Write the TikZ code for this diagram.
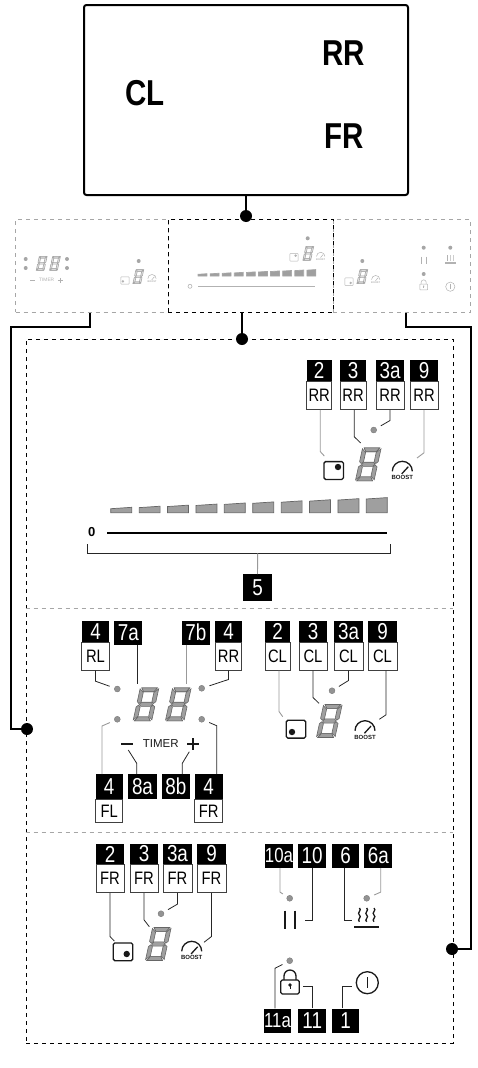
\documentclass[tikz,border=0pt]{standalone}
\usepackage{fontspec}
\usepackage{tikz}
\usetikzlibrary{positioning}
\setmainfont{Liberation Sans}
\newfontfamily\tagfont[FakeStretch=0.82]{Liberation Sans}
\colorlet{iconink}{black!90}
\colorlet{segfill}{gray!75}
\colorlet{segline}{black!60}
\colorlet{dotfill}{gray!85}
\tikzset{
  numbox/.style={fill=black, text=white, inner sep=0pt, anchor=north, minimum height=21pt, font=\tagfont\fontsize{23}{23}\selectfont},
  widenum/.style={font=\tagfont\fontsize{20.5}{20.5}\selectfont},
  zonebox/.style={draw=black!75, fill=white, line width=0.8pt, inner sep=0pt, minimum height=28pt, font=\tagfont\fontsize{18}{18}\selectfont},
  bigdot/.style={circle, fill=black, inner sep=0pt, minimum size=12pt},
  leddot/.style={circle, fill=dotfill, draw=black!55, line width=0.3pt, inner sep=0pt, minimum size=6pt},
  leader/.style={draw=black!85, line width=0.8pt},
  leaderpale/.style={draw=gray!80, line width=0.9pt},
  tolamp/.style={shorten >=5pt},
  link/.style={line width=2pt},
  zonepanel/.style={dashed, dash pattern=on 4pt off 4pt, line width=0.8pt, inner sep=0pt, anchor=center},
  iconline/.style={line width=1.3pt},
  iconround/.style={rounded corners=1.5pt},
  pics/digitpic/.style={code={
    \begin{scope}[xslant=0.22, draw=segline, fill=segfill, line width=0.6pt]
      \foreach \sx/\sy in {1/1, -1/1, 1/-1, -1/-1} {
        \filldraw[xscale=\sx, yscale=\sy] (-7.8,-16.5) -- (7.8,-16.5) -- (5.2,-12.6) -- (-5.2,-12.6) -- cycle;
        \filldraw[xscale=\sx, yscale=\sy] (-9.3,-15.5) -- (-5.3,-11.8) -- (-5.3,-2.6) -- (-7.3,-0.8) -- (-9.3,-2.6) -- cycle;
      }
      \filldraw (-6.7,0) -- (-4.7,-2.1) -- (4.7,-2.1) -- (6.7,0) -- (4.7,2.1) -- (-4.7,2.1) -- cycle;
    \end{scope}
  }},
  pics/squarepic/.style 2 args={code={
    \draw[iconink, iconline, iconround] (-9.7,-8.9) rectangle (9.7,8.9);
    \fill[iconink] (#1,#2) circle (3.2pt);
  }},
  pics/boostpic/.style={code={
    \draw[iconink, iconline] (-10,-2) arc (180:360:10);
    \draw[iconink, iconline] (-0.6,0.6) -- (6,-6.6);
    \node[iconink, transform shape, inner sep=0pt, font=\bfseries\fontsize{6}{6}\selectfont] at (0,4.6) {BOOST};
  }},
  pics/slidepic/.style={code={
    \foreach \i in {0,...,9} {
      \pgfmathsetmacro{\barx}{\i*28.4}
      \pgfmathsetmacro{\barl}{4+\i*1.08}
      \filldraw[fill=segfill, draw=segline, line width=0.7pt] (\barx,0) -- ++(21,0) -- ++(0,-\barl-1.4) -- ++(-21,1.4) -- cycle;
    }
  }},
  pics/pausepic/.style={code={
    \draw[iconink, iconline] (-5,-9) -- (-5,9) (5,-9) -- (5,9);
  }},
  pics/heatpic/.style={code={
    \foreach \x in {-7.3,0,7.3} {
      \draw[iconink, iconline] (\x,-7) .. controls +(3,2) and +(-3,-2) .. (\x,0) .. controls +(3,2) and +(-3,-2) .. (\x,6.7);
    }
    \draw[iconink, line width=1.8pt] (-12.4,11.7) -- (12.4,11.7);
  }},
  pics/lockpic/.style={code={
    \draw[iconink, iconline, iconround] (-9.3,0) rectangle (9.3,14);
    \draw[iconink, iconline] (-6,0) -- (-6,-4) arc (180:360:6) -- (6,0);
    \fill[iconink] (0,5) circle (1.8pt);
    \draw[iconink, line width=1pt] (0,5) -- (0,9);
  }},
  pics/powerpic/.style={code={
    \draw[iconink, iconline] (0,0) circle (11);
    \draw[iconink, iconline] (0,-5.5) -- (0,5.5);
  }},
  pics/timerpic/.style={code={
    \node[iconink, transform shape, inner sep=0pt, font=\fontsize{11.5}{11.5}\selectfont] at (0,0) {TIMER};
    \draw[iconink, line width=1.5pt] (-39.5,0) -- (-27.5,0);
    \draw[iconink, line width=1.5pt] (26.5,0) -- (38.5,0) (32.5,-6) -- (32.5,6);
  }},
}
% top black box with zone label below it
\newcommand{\zonerow}[4]{
  \foreach \nam/\xx/\wid/\num in {#4} {
    \node[numbox, minimum width=\wid] (#1\nam) at (\xx,#3) {\num};
    \node[zonebox, minimum width=\wid, below=-0.4pt of #1\nam] (#1\nam z) {#2};
  }
}
\begin{document}
\begin{tikzpicture}[x=1pt, y=-1pt]
  \useasboundingbox (0,0) rectangle (477,1068);

  % hob
  \node[draw, line width=2pt, rounded corners=2.5pt, minimum width=324pt, minimum height=190pt, inner sep=0pt] (hob) at (246,100) {};
  \node[font=\tagfont\bfseries\fontsize{36}{36}\selectfont, inner sep=0pt] (rrtxt) at (344,53) {RR};
  \node[font=\tagfont\bfseries\fontsize{36}{36}\selectfont, inner sep=0pt] (cltxt) at (145,93) {CL};
  \node[font=\tagfont\bfseries\fontsize{36}{36}\selectfont, inner sep=0pt] (frtxt) at (344,136) {FR};

  % small panels
  \node[zonepanel, draw=gray!70, minimum width=152.6pt, minimum height=93pt] (leftzone) at (92,265.8) {};
  \node[zonepanel, draw=gray!70, minimum width=137.4pt, minimum height=93pt] (rightzone) at (402,265.8) {};
  \node[zonepanel, draw=black, minimum width=165pt, minimum height=93pt] (midzone) at (250.8,265.8) {};
  \node[bigdot] (topdot) at (246,216) {};
  \draw[link] (hob.south) -- (topdot);

  \begin{scope}[iconline/.style={line width=0.5pt}, iconround/.style={rounded corners=0.5pt}]
    \colorlet{iconink}{gray!60}
    \colorlet{segfill}{gray!20}
    \colorlet{segline}{gray!70}
    \colorlet{dotfill}{gray!70}
    \foreach \nam/\xx/\yy in {a/25.7/259, b/25.7/268, c/67/259, d/67/268, e/138.7/261, f/307.7/238.3, g/362.3/261, h/423.7/247.7, i/450.3/247.7, j/423.7/274} {
      \node[leddot, draw=none, minimum size=4pt] (mini\nam) at (\xx,\yy) {};
    }
    \pic[scale=0.42] at (41.7,263.3) {digitpic};
    \pic[scale=0.42] at (55,263.3) {digitpic};
    \pic[scale=0.42] at (46.7,280.3) {timerpic};
    \pic[scale=0.42] at (138.3,276.7) {digitpic};
    \pic[scale=0.42] at (125,280.5) {squarepic={-5}{2}};
    \pic[scale=0.42] at (152,279.5) {boostpic};
    \pic[scale=0.42] at (308.3,253.3) {digitpic};
    \pic[scale=0.42] at (294,257.3) {squarepic={4}{-4}};
    \pic[scale=0.42] at (320.7,257.3) {boostpic};
    \pic[scale=0.42] at (362.3,276.7) {digitpic};
    \pic[scale=0.42] at (349,281.7) {squarepic={4}{3}};
    \pic[scale=0.42] at (375.7,280.5) {boostpic};
    \colorlet{segfill}{gray!75}
    \pic[scale=0.426] at (198,276) {slidepic};
    \draw[iconink, line width=0.6pt] (198,286.3) -- (315.3,286.3);
    \draw[iconink, line width=0.6pt] (190,286.3) circle (2);
    \pic[scale=0.42] at (423.7,260.3) {pausepic};
    \pic[scale=0.42] at (450.3,258) {heatpic};
    \pic[scale=0.42] at (423.7,284) {lockpic};
    \pic[scale=0.42] at (450.3,286.7) {powerpic};
  \end{scope}

  % big frame
  \node[zonepanel, draw=black, minimum width=427pt, minimum height=704pt] (frame) at (239.5,691) {};
  \draw[zonepanel, draw=gray!70] (frame.west |- 0,608) -- (frame.east |- 0,608);
  \draw[zonepanel, draw=gray!70] (frame.west |- 0,832) -- (frame.east |- 0,832);
  \node[bigdot] (framedot) at (242,339) {};
  \node[bigdot] (leftdot) at (27,729) {};
  \node[bigdot] (rightdot) at (452,949) {};
  \draw[link] ([xshift=-8.8pt]midzone.south) -- (framedot);
  \draw[link] ([xshift=-2pt]leftzone.south) -- ++(0,14) -- ++(-79,0) |- (leftdot);
  \draw[link] ([xshift=4pt]rightzone.south) -- ++(0,14) -- ++(65,0) |- (rightdot);

  % RR zone
  \zonerow{rr}{RR}{360}{2/319.2/25/2, 3/353/26/3, a/390/28/3a, 9/424/28/9}
  \node[leddot] (rrled) at (373.7,430) {};
  \pic at (368.3,464.3) {digitpic};
  \pic at (333.7,470.5) {squarepic={4.3}{-3.5}};
  \pic at (402.3,473.3) {boostpic};
  \coordinate (rrend2) at (324.3,456);
  \coordinate (rrend3) at (360.7,443);
  \coordinate (rrend9) at (417,458);
  \draw[leaderpale] ([xshift=1pt]rr2z.south) -- ++(0,41.7) -- (rrend2);
  \draw[leader] ([xshift=1.3pt]rr3z.south) -- ++(0,27) -- (rrend3);
  \draw[leader, tolamp] (rraz.south) -- ++(0,10.7) -- (rrled);
  \draw[leaderpale] (rr9z.south) -- ++(0,43) -- (rrend9);

  % slider
  \pic at (110.7,512.7) {slidepic};
  \node[inner sep=0pt, font=\bfseries\fontsize{13}{13}\selectfont] (zerotxt) at (91.7,532.4) {0};
  \node[inner sep=0pt, minimum width=280.6pt, minimum height=2pt, fill=black] (slideline) at (247,533) {};
  \node[numbox, minimum width=28.4pt, minimum height=27pt] (fivetag) at (257.5,574) {5};
  \coordinate (brackl) at (87.3,544);
  \coordinate (brackr) at (390.3,544);
  \draw[leader, line width=1pt] (brackl) -- ++(0,9.3) -| (brackr);
  \coordinate (brackm) at (257.7,553.3);
  \draw[leaderpale] (brackm) -- (fivetag.north);

  % timer
  \zonerow{tt}{RL}{620.7}{r/95.5/27.6/4}
  \zonerow{tu}{RR}{620.7}{r/228.5/26.4/4}
  \node[numbox, minimum width=28pt, minimum height=23.6pt] (sevena) at (128.3,620.7) {7a};
  \node[numbox, minimum width=28.3pt, minimum height=23.6pt] (sevenb) at (195.8,620.7) {7b};
  \node[leddot] (ledrl) at (117.3,689) {};
  \node[leddot] (ledrr) at (201.7,688.3) {};
  \node[leddot] (ledfl) at (117.3,719.3) {};
  \node[leddot] (ledfr) at (201.7,719.3) {};
  \pic at (146,704.3) {digitpic};
  \pic at (178.3,704.3) {digitpic};
  \pic at (160.7,744) {timerpic};
  \node[numbox, minimum width=27pt, minimum height=25.3pt] (flnum) at (109.2,774) {4};
  \node[zonebox, minimum width=27pt, minimum height=23pt, below=-0.4pt of flnum] (flzone) {FL};
  \node[numbox, minimum width=28pt, minimum height=25.3pt] (frnum) at (208.7,774) {4};
  \node[zonebox, minimum width=28pt, minimum height=23pt, below=-0.4pt of frnum] (frzone) {FR};
  \node[numbox, minimum width=28.4pt, minimum height=24.3pt] (eighta) at (142.5,774) {8a};
  \node[numbox, minimum width=28.3pt, minimum height=24.3pt] (eightb) at (175.8,774) {8b};
  \coordinate (tend8a) at (128.3,750);
  \coordinate (tend8b) at (189.3,751.7);
  \draw[leader, tolamp] (ttrz.south) -- ++(0,10.7) -- (ledrl);
  \draw[leader, tolamp] (turz.south) -- ++(0,9) -- (ledrr);
  \draw[leader] ([xshift=9pt]sevena.south) -- ++(0,39.7);
  \draw[leaderpale] ([xshift=-9.5pt]sevenb.south) -- ++(0,39.7);
  \draw[leaderpale, tolamp] ([xshift=-7.2pt]flnum.north) -- ++(0,-48) -- (ledfl);
  \draw[leader, tolamp] ([xshift=8pt]frnum.north) -- ++(0,-48.3) -- (ledfr);
  \draw[leader] ([xshift=-5.8pt]eighta.north) -- ++(0,-10.7) -- (tend8a);
  \draw[leader] ([xshift=6.5pt]eightb.north) -- ++(0,-10.7) -- (tend8b);

  % CL zone
  \zonerow{cl}{CL}{620.7}{2/277.5/25/2, 3/313/28/3, a/348.5/29/3a, 9/382.5/29/9}
  \node[leddot] (clled) at (332,690.7) {};
  \pic at (329.3,721) {digitpic};
  \pic at (296,729.2) {squarepic={-4}{2.8}};
  \pic at (365,732.7) {boostpic};
  \coordinate (clend2) at (282.7,716.7);
  \coordinate (clend3) at (319,703.3);
  \coordinate (clend9) at (379.3,719.3);
  \draw[leaderpale] ([xshift=1.5pt]cl2z.south) -- ++(0,41) -- (clend2);
  \draw[leader] (cl3z.south) -- ++(0,27) -- (clend3);
  \draw[leader, tolamp] (claz.south) -- ++(0,10) -- (clled);
  \draw[leader] ([xshift=3.5pt]cl9z.south) -- ++(0,44.3) -- (clend9);

  % FR zone
  \zonerow{fr}{FR}{843.3}{2/110/28/2, 3/144/28/3, a/177.5/29/3a, 9/211.5/29/9}
  \node[leddot] (frled) at (161,913.7) {};
  \pic at (158.3,944) {digitpic};
  \pic at (123,951.8) {squarepic={3.7}{2.2}};
  \pic at (191.7,953.3) {boostpic};
  \coordinate (frend2) at (114.3,941);
  \coordinate (frend3) at (149.3,926.7);
  \coordinate (frend9) at (204,942.3);
  \draw[leader] (fr2z.south) -- ++(0,43.4) -- (frend2);
  \draw[leader] (fr3z.south) -- ++(0,26.7) -- (frend3);
  \draw[leader, tolamp] (fraz.south) -- ++(0,11) -- (frled);
  \draw[leader] (fr9z.south) -- ++(0,43.4) -- (frend9);

  % controls
  \node[numbox, widenum, minimum width=26.6pt, minimum height=24.4pt] (tena) at (279,843.3) {10a};
  \node[numbox, minimum width=27.7pt, minimum height=24.4pt] (tenb) at (312.2,843.3) {10};
  \node[numbox, minimum width=27.6pt, minimum height=24.4pt] (sixb) at (345.5,843.3) {6};
  \node[numbox, minimum width=28pt, minimum height=24.4pt] (sixa) at (378.3,843.3) {6a};
  \node[leddot] (ledten) at (289.7,898.3) {};
  \node[leddot] (ledsix) at (366.7,898.3) {};
  \node[leddot] (ledlock) at (289.7,960.7) {};
  \pic at (290,919.7) {pausepic};
  \pic at (366.7,915) {heatpic};
  \pic at (290,980) {lockpic};
  \pic at (367.3,982.7) {powerpic};
  \node[numbox, widenum, minimum width=25pt, minimum height=24pt] (lockb) at (277.5,1008.3) {11a};
  \node[numbox, minimum width=27.7pt, minimum height=24pt] (lockk) at (312.2,1008.3) {11};
  \node[numbox, minimum width=27.6pt, minimum height=24pt] (powerk) at (345.5,1008.3) {1};
  \coordinate (endten) at (305,920.3);
  \coordinate (endsix) at (351.7,920.3);
  \coordinate (endlock) at (303.3,986.7);
  \coordinate (endpower) at (351.7,986.7);
  \draw[leaderpale, tolamp] ([xshift=1pt]tena.south) -- ++(0,24) -- (ledten);
  \draw[leader] (tenb.south) |- (endten);
  \draw[leader] ([xshift=-1.2pt]sixb.south) |- (endsix);
  \draw[leaderpale, tolamp] ([xshift=2.4pt]sixa.south) -- ++(0,24) -- (ledsix);
  \draw[leader, tolamp] ([xshift=-2.5pt]lockb.north) -- ++(0,-40) -- (ledlock);
  \draw[leader] (lockk.north) |- (endlock);
  \draw[leader] ([xshift=-2.8pt]powerk.north) |- (endpower);
\end{tikzpicture}
\end{document}
